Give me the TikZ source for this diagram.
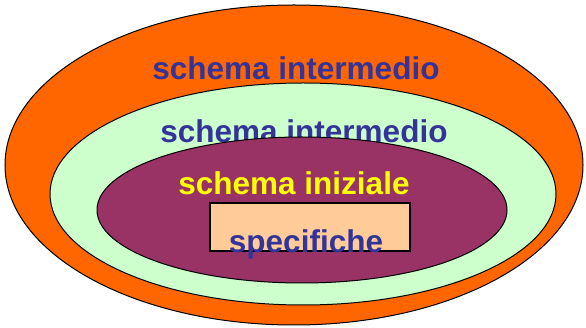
\documentclass[tikz,border=0pt]{standalone}
\usepackage{fontspec}
\setmainfont{Liberation Sans}
\definecolor{orng}{HTML}{FF6600}
\definecolor{lgreen}{HTML}{CCFFCC}
\definecolor{plum}{HTML}{993366}
\definecolor{peach}{HTML}{FFCC99}
\definecolor{navy}{HTML}{333399}
\definecolor{yel}{HTML}{FFFF00}
\begin{document}
\begin{tikzpicture}[x=1pt,y=-1pt,
  ring/.style={draw=black,line width=1pt},
  lbl/.style={anchor=base,inner sep=0pt,font=\fontsize{31.5}{31.5}\selectfont\bfseries}]
\useasboundingbox (0,0) rectangle (586,328);
\begin{scope}
\clip (0,0) rectangle (586,328);
\draw[ring,fill=orng] (294,165) ellipse [x radius=289, y radius=160];
\end{scope}
\draw[ring,fill=lgreen] (303,194) ellipse [x radius=253, y radius=111];
\node[lbl,text=navy] (t1) at (296,80) {schema intermedio};
\node[lbl,text=navy] (t2) at (304,143) {schema intermedio};
\draw[ring,fill=plum] (302,210) ellipse [x radius=205, y radius=73];
\node[lbl,text=yel] (t3) at (294,195) {schema iniziale};
\node[draw=black,line width=1.8pt,fill=peach,minimum width=200pt,minimum height=48pt,inner sep=0pt] (spec) at (310,227) {};
\node[lbl,text=navy] (t4) at (306,253) {specifiche};
\end{tikzpicture}
\end{document}
